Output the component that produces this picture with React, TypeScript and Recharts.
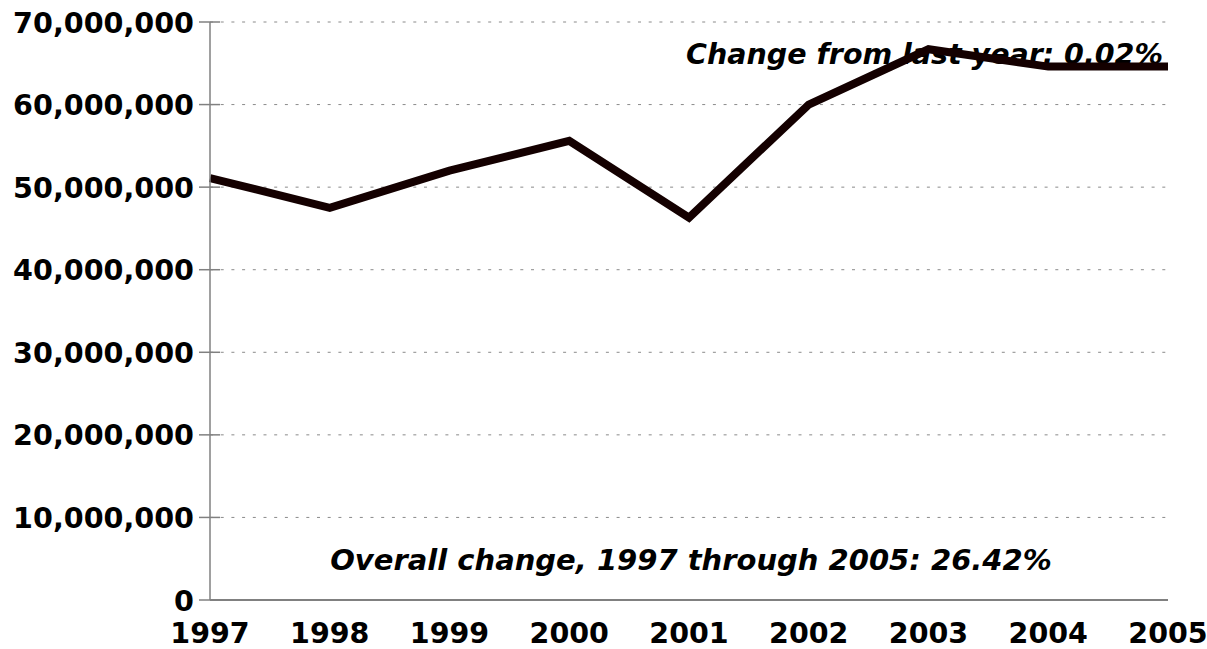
import React from "react";
import { LineChart, Line, XAxis, YAxis, CartesianGrid } from "recharts";

const years = ["1997", "1998", "1999", "2000", "2001", "2002", "2003", "2004", "2005"];
const values = [51100000, 47500000, 52000000, 55600000, 46300000, 60000000, 66700000, 64600000, 64600000];
const yTicks = [0, 10000000, 20000000, 30000000, 40000000, 50000000, 60000000, 70000000];
const noteTop = "Change from last year: 0.02%";
const noteBottom = "Overall change, 1997 through 2005: 26.42%";

const data = years.map((y, i) => ({ year: y, value: values[i] }));

const FONT = "'DejaVu Sans', Verdana, sans-serif";

const YTick = (props: any) => {
  const { x, y, payload } = props;
  return (
    <g>
      <line x1={x - 11} x2={x + 10} y1={y} y2={y} stroke="#808080" strokeWidth={1.5} />
      <text x={x - 16} y={y} dy={10.5} textAnchor="end" fontFamily={FONT} fontWeight="bold" fontSize={28.6} fill="#000">
        {Number(payload.value).toLocaleString("en-US")}
      </text>
    </g>
  );
};

const XTick = (props: any) => {
  const { x, y, payload } = props;
  return (
    <text x={x} y={y} dy={43} textAnchor="middle" fontFamily={FONT} fontWeight="bold" fontSize={28.5} fill="#000">
      {payload.value}
    </text>
  );
};

export default function App() {
  return (
    <div style={{ position: "absolute", left: 0, top: 0, width: 1207, height: 649, background: "#fff" }}>
      <svg width={1207} height={649} style={{ position: "absolute", left: 0, top: 0 }}>
        <text x={1163} y={64} textAnchor="end" fontFamily={FONT} fontWeight="bold" fontStyle="italic" fontSize={28.5} fill="#000">
          {noteTop}
        </text>
        <text x={691} y={570} textAnchor="middle" fontFamily={FONT} fontWeight="bold" fontStyle="italic" fontSize={29} fill="#000">
          {noteBottom}
        </text>
      </svg>
      <div style={{ position: "absolute", left: 0, top: 0 }}>
        <LineChart width={1207} height={649} data={data} margin={{ top: 22, right: 39, bottom: 0, left: 0 }}>
          <CartesianGrid vertical={false} stroke="#8a8a8a" strokeDasharray="3 7.7" strokeWidth={1} />
          <XAxis
            dataKey="year"
            tick={<XTick />}
            tickLine={false}
            tickSize={0}
            tickMargin={0}
            height={49}
            interval={0}
            axisLine={{ stroke: "#808080", strokeWidth: 2 }}
          />
          <YAxis
            domain={[0, 70000000]}
            ticks={yTicks}
            tick={<YTick />}
            tickLine={false}
            tickSize={0}
            tickMargin={0}
            width={210}
            interval={0}
            axisLine={{ stroke: "#808080", strokeWidth: 1.5 }}
          />
          <Line
            type="linear"
            dataKey="value"
            stroke="#140000"
            strokeWidth={8}
            dot={false}
            isAnimationActive={false}
            strokeLinejoin="miter"
          />
        </LineChart>
      </div>
    </div>
  );
}
